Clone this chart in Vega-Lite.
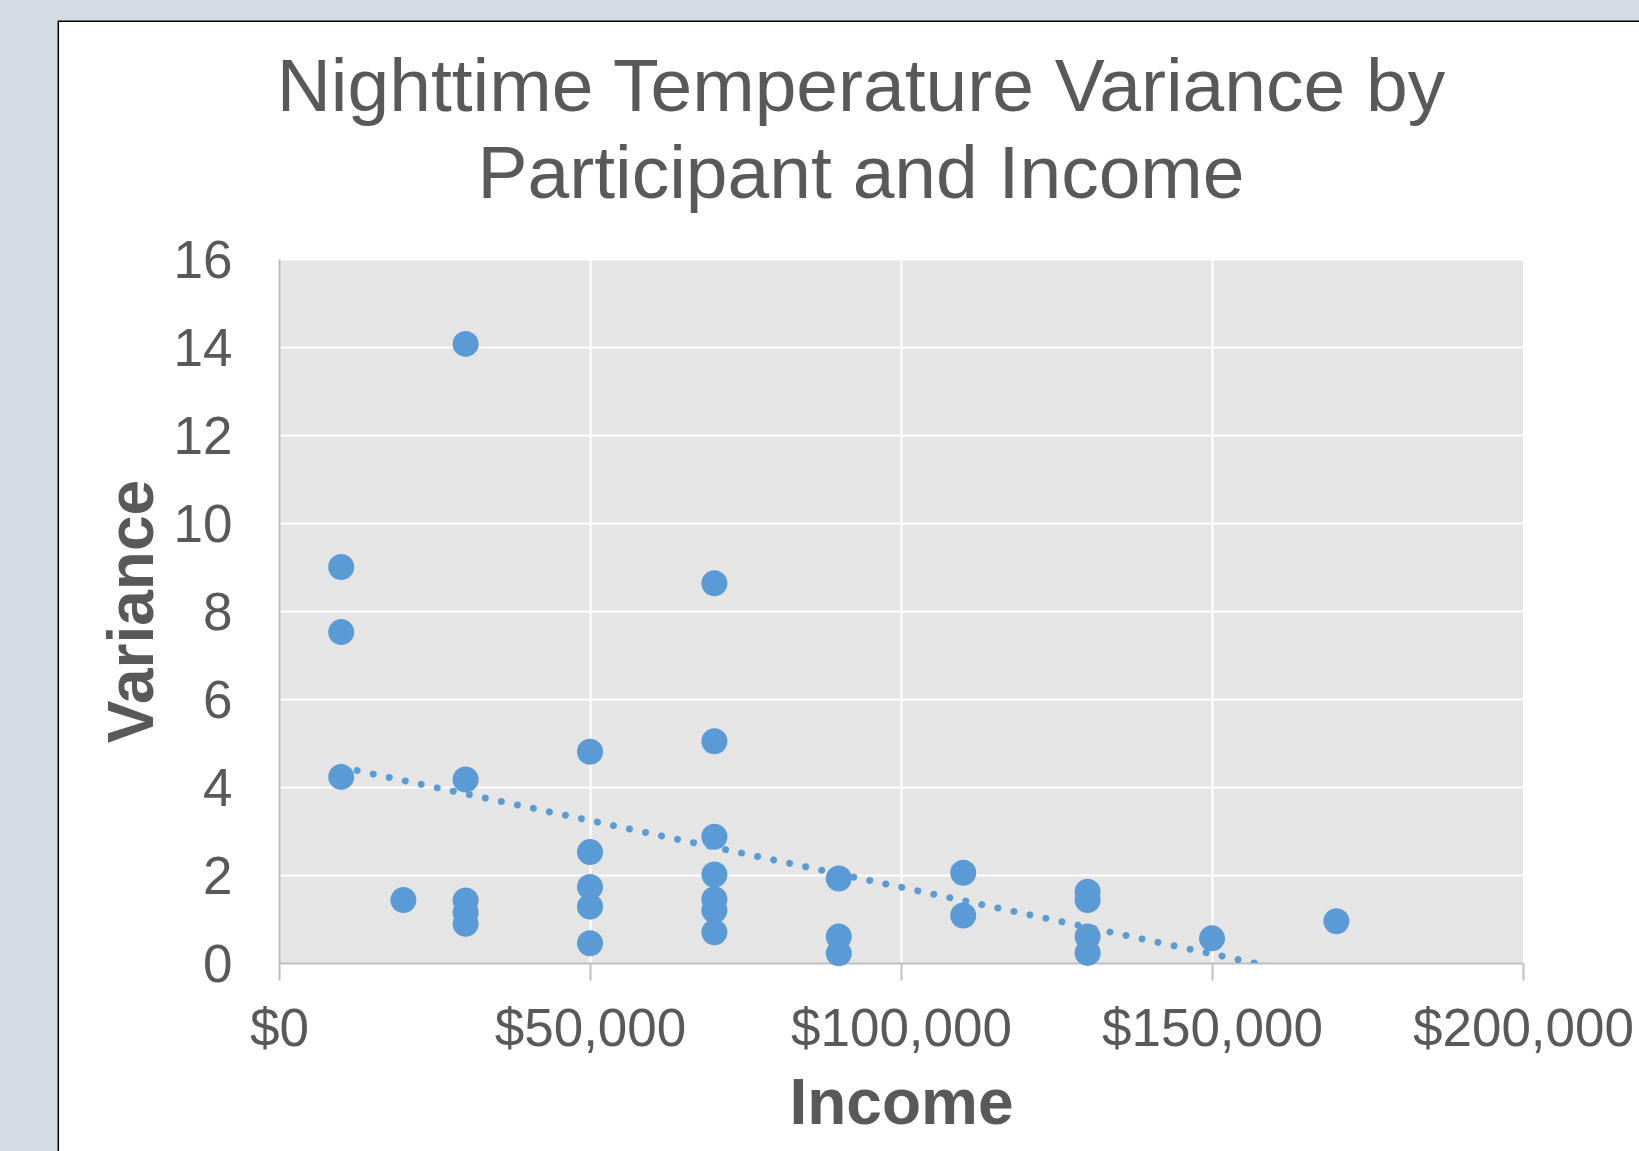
{
  "$schema": "https://vega.github.io/schema/vega-lite/v6.json",
  "width": 1244,
  "height": 704,
  "autosize": {"type": "none"},
  "padding": {"left": 279, "top": 259, "right": 116, "bottom": 188},
  "background": "white",
  "title": {
    "text": ["Nighttime Temperature Variance by", "Participant and Income"],
    "font": "Liberation Sans",
    "fontSize": 75,
    "fontWeight": "normal",
    "color": "#595959",
    "lineHeight": 87,
    "anchor": "middle",
    "frame": "group",
    "dx": -40,
    "offset": -214,
    "limit": 0
  },
  "config": {
    "view": {"fill": "#e5e5e5", "stroke": null}
  },
  "datasets": {
    "points": [
      {"Income": 10000, "Variance": 9.0},
      {"Income": 10000, "Variance": 7.52},
      {"Income": 10000, "Variance": 4.23},
      {"Income": 20000, "Variance": 1.43},
      {"Income": 30000, "Variance": 14.07},
      {"Income": 30000, "Variance": 4.17},
      {"Income": 30000, "Variance": 1.42},
      {"Income": 30000, "Variance": 1.15},
      {"Income": 30000, "Variance": 0.89},
      {"Income": 50000, "Variance": 4.8},
      {"Income": 50000, "Variance": 2.52},
      {"Income": 50000, "Variance": 1.73},
      {"Income": 50000, "Variance": 1.28},
      {"Income": 50000, "Variance": 0.45},
      {"Income": 70000, "Variance": 8.63},
      {"Income": 70000, "Variance": 5.04},
      {"Income": 70000, "Variance": 2.87},
      {"Income": 70000, "Variance": 2.01},
      {"Income": 70000, "Variance": 1.45},
      {"Income": 70000, "Variance": 1.2},
      {"Income": 70000, "Variance": 0.7},
      {"Income": 90000, "Variance": 1.92},
      {"Income": 90000, "Variance": 0.6},
      {"Income": 90000, "Variance": 0.22},
      {"Income": 110000, "Variance": 2.05},
      {"Income": 110000, "Variance": 1.08},
      {"Income": 130000, "Variance": 1.62},
      {"Income": 130000, "Variance": 1.43},
      {"Income": 130000, "Variance": 0.6},
      {"Income": 130000, "Variance": 0.23},
      {"Income": 150000, "Variance": 0.56},
      {"Income": 170000, "Variance": 0.95}
    ],
    "trend": [
      {"Income": 10000, "Variance": 4.45},
      {"Income": 170000, "Variance": -0.4}
    ],
    "deco": [{}]
  },
  "layer": [
    {
      "data": {"name": "points"},
      "mark": {"type": "point", "shape": "circle", "filled": true, "size": 676, "color": "#5b9bd5", "opacity": 1},
      "encoding": {
        "x": {
          "field": "Income",
          "type": "quantitative",
          "scale": {"domain": [0, 200000], "nice": false, "zero": false},
          "axis": {
            "title": "Income",
            "values": [0, 50000, 100000, 150000, 200000],
            "format": "$,.0f",
            "labelFont": "Liberation Sans",
            "labelFontSize": 53,
            "labelColor": "#595959",
            "labelBaseline": "alphabetic",
            "labelPadding": 65,
            "labelLimit": 0,
            "labelFlush": false,
            "labelOverlap": false,
            "labelBound": false,
            "ticks": true,
            "tickSize": 17,
            "tickColor": "#bfbfbf",
            "tickWidth": 2,
            "domainColor": "#bfbfbf",
            "domainWidth": 2,
            "grid": true,
            "gridColor": "white",
            "gridWidth": 2,
            "gridOpacity": {"condition": {"test": "datum.value === 0 || datum.value === 200000", "value": 0}, "value": 1},
            "titleFont": "Liberation Sans",
            "titleFontSize": 64,
            "titleFontWeight": "bold",
            "titleColor": "#595959",
            "titleBaseline": "alphabetic",
            "titleX": 622,
            "titleY": 160.6
          }
        },
        "y": {
          "field": "Variance",
          "type": "quantitative",
          "scale": {"domain": [0, 16], "nice": false},
          "axis": {
            "title": "Variance",
            "values": [0, 2, 4, 6, 8, 10, 12, 14, 16],
            "format": "d",
            "labelFont": "Liberation Sans",
            "labelFontSize": 53,
            "labelColor": "#595959",
            "labelBaseline": "alphabetic",
            "labelOffset": 18,
            "labelPadding": 47,
            "labelLimit": 0,
            "labelFlush": false,
            "labelOverlap": false,
            "labelBound": false,
            "ticks": false,
            "tickSize": 0,
            "domainColor": "#bfbfbf",
            "domainWidth": 2,
            "grid": true,
            "gridColor": "white",
            "gridWidth": 2,
            "gridOpacity": {"condition": {"test": "datum.value === 0", "value": 0}, "value": 1},
            "titleFont": "Liberation Sans",
            "titleFontSize": 64,
            "titleFontWeight": "bold",
            "titleColor": "#595959",
            "titleBaseline": "alphabetic",
            "titleAngle": 270,
            "titleX": -127,
            "titleY": 352
          }
        }
      }
    },
    {
      "data": {"name": "trend"},
      "mark": {"type": "line", "clip": true, "color": "#5b9bd5", "strokeWidth": 7, "strokeCap": "round", "strokeDash": [0.01, 16.37]},
      "encoding": {
        "x": {"field": "Income", "type": "quantitative"},
        "y": {"field": "Variance", "type": "quantitative"}
      }
    },
    {
      "data": {"name": "deco"},
      "mark": {"type": "rect", "fill": "#d3dbe3"},
      "encoding": {
        "x": {"datum": -60000, "type": "quantitative"},
        "x2": {"datum": -35482},
        "y": {"datum": -10, "type": "quantitative"},
        "y2": {"datum": 21.8864}
      }
    },
    {
      "data": {"name": "deco"},
      "mark": {"type": "rect", "fill": "#d3dbe3"},
      "encoding": {
        "x": {"datum": -60000, "type": "quantitative"},
        "x2": {"datum": 300000},
        "y": {"datum": 21.405, "type": "quantitative"},
        "y2": {"datum": 21.8864}
      }
    },
    {
      "data": {"name": "deco"},
      "mark": {"type": "rect", "fillOpacity": 0, "stroke": "#000000", "strokeWidth": 1.5},
      "encoding": {
        "x": {"datum": -35482, "type": "quantitative"},
        "x2": {"datum": 300000},
        "y": {"datum": -10, "type": "quantitative"},
        "y2": {"datum": 21.405}
      }
    }
  ]
}
